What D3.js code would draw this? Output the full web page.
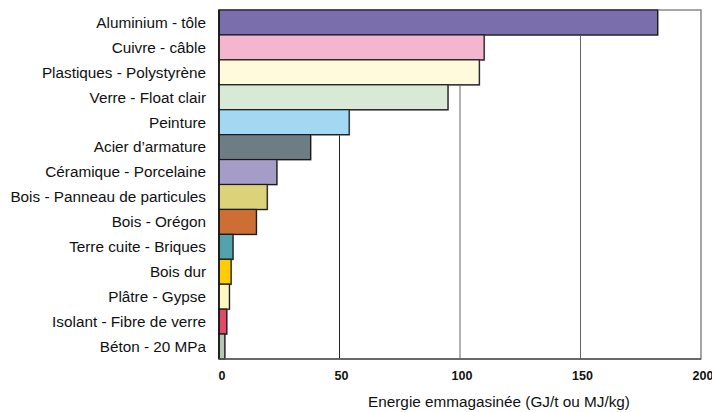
<!DOCTYPE html>
<html>
<head>
<meta charset="utf-8">
<script src="https://cdn.jsdelivr.net/npm/d3@7"></script>
<style>
  body { margin: 0; background: #fff; }
  text { font-family: "Liberation Sans", Arial, sans-serif; }
</style>
</head>
<body>
<div id="chart"></div>
<script>
// matériaux (de haut en bas)
const materiaux = [
    'Aluminium - tôle', 'Cuivre - câble', 'Plastiques - Polystyrène', 'Verre - Float clair',
    'Peinture', 'Acier d\u2019armature', 'Céramique - Porcelaine', 'Bois - Panneau de particules',
    'Bois - Orégon', 'Terre cuite - Briques', 'Bois dur', 'Plâtre - Gypse',
    'Isolant - Fibre de verre', 'Béton - 20 MPa'
];
// énergie emmagasinée (GJ/t)
const energie = [182, 110, 108, 95, 54, 38, 24, 20, 15.5, 5.8, 5, 4.3, 3.2, 2.4];
const couleurs = [
    '#7a6fac', '#f4b6cf', '#fffadc', '#d8ead6', '#a3d8f2', '#6e7d84', '#a59dc8',
    '#dcd27a', '#cd6e35', '#52a3ae', '#ffcc00', '#fff7bf', '#e24b67', '#b5c6b5'
];
const ticks = [0, 50, 100, 150, 200];
const titreX = 'Energie emmagasinée (GJ/t ou MJ/kg)';

const width = 712, height = 412;
const margin = { top: 10, right: 11, bottom: 53, left: 219 };

const svg = d3.select('#chart').append('svg')
    .attr('width', width)
    .attr('height', height);

const x = d3.scaleLinear().domain([0, 200]).range([margin.left, width - margin.right]);
const y = d3.scaleBand().domain(materiaux).range([margin.top, height - margin.bottom]).padding(0);

// grille verticale
svg.append('g')
    .selectAll('line')
    .data(ticks.slice(1, -1))
    .enter()
    .append('line')
    .attr('x1', (d) => x(d)).attr('x2', (d) => x(d))
    .attr('y1', margin.top).attr('y2', height - margin.bottom)
    .attr('stroke', (d) => d === 50 ? '#222' : '#666')
    .attr('stroke-width', 1);

// cadre
svg.append('rect')
    .attr('x', margin.left).attr('y', margin.top)
    .attr('width', x(200) - x(0))
    .attr('height', height - margin.bottom - margin.top)
    .attr('fill', 'none')
    .attr('stroke', '#777')
    .attr('stroke-width', 1.3);

// ombre des barres
svg.append('g')
    .selectAll('rect')
    .data(energie)
    .enter()
    .append('rect')
    .attr('x', x(0) + 1)
    .attr('y', (d, i) => y(materiaux[i]) + 1)
    .attr('width', (d) => x(d) - x(0))
    .attr('height', y.bandwidth())
    .attr('fill', '#999');

// barres
svg.append('g')
    .selectAll('rect')
    .data(energie)
    .enter()
    .append('rect')
    .attr('x', x(0))
    .attr('y', (d, i) => y(materiaux[i]))
    .attr('width', (d) => x(d) - x(0))
    .attr('height', y.bandwidth())
    .attr('fill', (d, i) => couleurs[i])
    .attr('stroke', '#1a1a1a')
    .attr('stroke-width', 1.2);

// axe gauche / bas foncés
svg.append('line')
    .attr('x1', x(0)).attr('x2', x(0))
    .attr('y1', margin.top).attr('y2', height - margin.bottom)
    .attr('stroke', '#111').attr('stroke-width', 1.5);
svg.append('line')
    .attr('x1', x(0)).attr('x2', x(200))
    .attr('y1', height - margin.bottom).attr('y2', height - margin.bottom)
    .attr('stroke', '#555').attr('stroke-width', 1.5);

// étiquettes
svg.append('g')
    .selectAll('text')
    .data(materiaux)
    .enter()
    .append('text')
    .attr('x', margin.left - 13)
    .attr('y', (d) => y(d) + y.bandwidth() / 2)
    .attr('dy', '0.35em')
    .attr('text-anchor', 'end')
    .style('font-size', '15.3px')
    .style('fill', '#111')
    .text((d) => d);

// graduations
svg.append('g')
    .selectAll('text')
    .data(ticks)
    .enter()
    .append('text')
    .attr('x', (d) => x(d) + (d === 0 ? 3 : 2))
    .attr('y', height - margin.bottom + 21)
    .attr('text-anchor', 'middle')
    .style('font-size', '12.5px')
    .style('font-weight', 'bold')
    .style('fill', '#111')
    .text((d) => d);

svg.append('text')
    .attr('x', 499)
    .attr('y', 407)
    .attr('text-anchor', 'middle')
    .style('font-size', '15.3px')
    .style('fill', '#111')
    .text(titreX);
</script>
</body>
</html>
